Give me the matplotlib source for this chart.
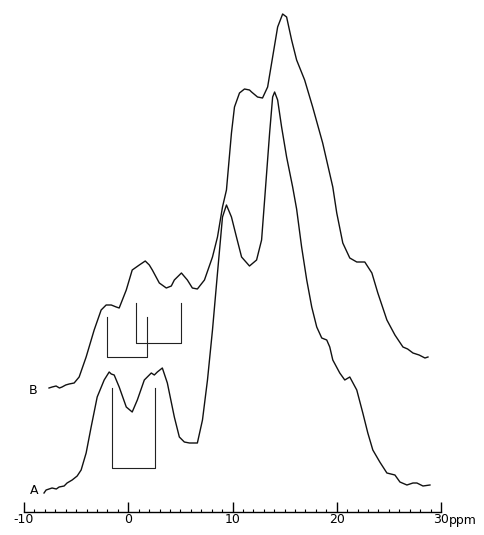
import matplotlib.pyplot as plt

# trace B (upper spectrum): chemical shift (ppm) and intensity (arb.)
b_ppm = [-7.60, -7.30, -6.92, -6.60, -6.35, -6.00, -5.67, -5.19, -4.71, -4.04, -3.27, -2.60,
         -2.12, -1.63, -1.15, -0.87, -0.19, 0.38, 1.06, 1.63, 2.02, 2.31, 2.98, 3.65,
         4.13, 4.42, 5.10, 5.67, 6.15, 6.63, 7.31, 8.08, 8.56, 9.04, 9.42, 9.90,
         10.19, 10.67, 11.15, 11.63, 11.83, 12.40, 12.88, 13.37, 13.85, 14.33, 14.81, 15.19,
         15.67, 16.15, 16.92, 17.69, 18.65, 19.62, 20.00, 20.58, 21.25, 21.92, 22.69, 23.37,
         23.94, 24.81, 25.58, 26.35, 26.80, 27.31, 27.90, 28.46, 28.75]
b_int = [124, 125, 126, 124, 125, 127, 128, 129, 135, 155, 182, 202,
         207, 207, 205, 204, 222, 242, 247, 251, 247, 242, 229, 224,
         226, 232, 239, 232, 224, 223, 232, 255, 275, 305, 322, 379,
         405, 419, 423, 422, 420, 415, 414, 425, 455, 485, 498, 495,
         472, 452, 432, 405, 369, 325, 299, 269, 254, 250, 250, 239,
         219, 192, 177, 165, 163, 159, 157, 154, 155]

# trace A (lower spectrum)
a_ppm = [-8.08, -7.88, -7.31, -6.90, -6.63, -6.15, -5.87, -5.38, -4.90, -4.52, -4.04, -3.56,
         -2.98, -2.31, -1.83, -1.63, -1.35, -0.87, -0.19, 0.38, 0.87, 1.54, 2.21, 2.50,
         2.79, 3.27, 3.75, 4.42, 4.90, 5.38, 5.87, 6.63, 7.12, 7.60, 8.08, 8.56,
         9.04, 9.42, 9.90, 10.38, 10.87, 11.63, 12.31, 12.79, 13.08, 13.56, 13.85, 14.04,
         14.33, 14.71, 15.19, 15.77, 16.15, 16.63, 17.12, 17.60, 18.08, 18.56, 19.04, 19.33,
         19.62, 20.29, 20.77, 21.25, 21.92, 22.50, 22.98, 23.46, 24.13, 24.81, 25.58, 26.06,
         26.73, 27.31, 27.69, 28.27, 28.94]
a_int = [19, 22, 24, 23, 25, 26, 29, 32, 36, 42, 59, 85,
         115, 132, 140, 138, 137, 125, 105, 100, 112, 132, 139, 137,
         140, 144, 129, 95, 75, 70, 69, 69, 92, 132, 182, 239,
         295, 307, 295, 275, 255, 246, 252, 272, 312, 379, 415, 420,
         412, 385, 355, 325, 303, 265, 232, 205, 185, 174, 172, 165,
         152, 139, 132, 135, 122, 99, 79, 62, 50, 39, 37, 30,
         27, 29, 29, 26, 27]

# assignment brackets: (left ppm, right ppm, top, bottom)
brackets = [(-2.0, 1.8, 195, 155), (0.7, 5.1, 209, 169), (-1.6, 2.6, 124, 44)]

tick_pos = [-10, 0, 10, 20, 30]
tick_lab = ['-10', '0', '10', '20', '30']

fig = plt.figure(figsize=(4.84, 5.35), dpi=100)
ax = fig.add_axes([24 / 484, 23 / 535, 417 / 484, 512 / 535])

ax.plot(b_ppm, b_int, color='#111111', lw=1.0)
ax.plot(a_ppm, a_int, color='#111111', lw=1.0)
for left, right, top, bottom in brackets:
    ax.plot([left, left, right, right], [top, bottom, bottom, top], color='#222222', lw=0.8)

ax.text(-9.1, 122, 'B', fontsize=9, ha='center', va='center')
ax.text(-9.0, 22, 'A', fontsize=9, ha='center', va='center')

ax.set_xlim(-10, 30)
ax.set_ylim(0, 512)
for s in ['left', 'top', 'right']:
    ax.spines[s].set_visible(False)
ax.spines['bottom'].set_linewidth(1.0)
ax.set_yticks([])
ax.set_xticks(tick_pos)
ax.set_xticklabels(tick_lab, fontsize=9)
ax.set_xticks(range(-10, 31), minor=True)
ax.tick_params(axis='x', which='major', direction='in', length=7, width=1.0, pad=1)
ax.tick_params(axis='x', which='minor', direction='in', length=2.5, width=0.8)
ax.text(30.8, -2, 'ppm', fontsize=9, ha='left', va='top', clip_on=False)

fig.savefig('out.png', dpi=100)
